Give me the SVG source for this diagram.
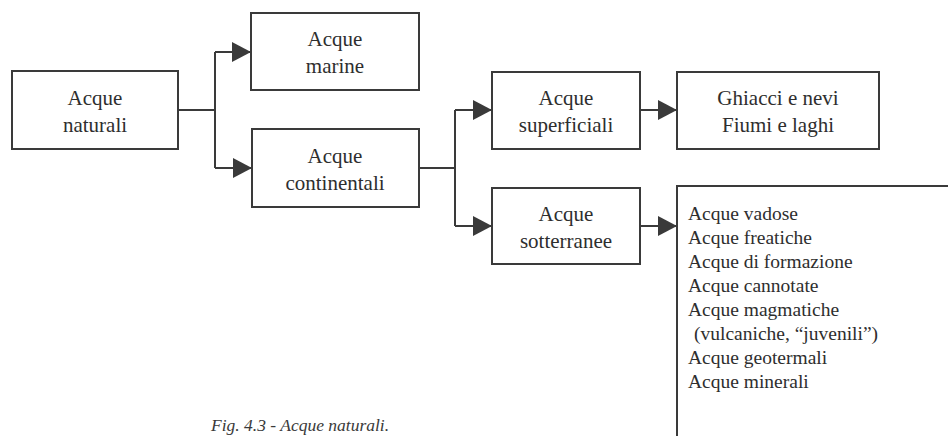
<svg xmlns="http://www.w3.org/2000/svg" width="948" height="436" viewBox="0 0 948 436">
  <style>
    .box { fill: #ffffff; stroke: #3a3a3a; stroke-width: 2; }
    .edge { fill: none; stroke: #3a3a3a; stroke-width: 2; }
    .lbl { font-family: "Liberation Serif", "Times New Roman", serif; font-size: 21px; fill: #2e2e2e; text-anchor: middle; }
    .item { font-family: "Liberation Serif", "Times New Roman", serif; font-size: 19.5px; fill: #2e2e2e; }
    .cap { font-family: "Liberation Serif", "Times New Roman", serif; font-style: italic; font-size: 17.5px; fill: #3a3a3a; }
  </style>
  <defs>
    <marker id="head" markerUnits="userSpaceOnUse" markerWidth="19" markerHeight="20" refX="19" refY="10" orient="auto">
      <path d="M0,0 L19,10 L0,20 Z" fill="#3a3a3a"/>
    </marker>
  </defs>
  <rect width="948" height="436" fill="#ffffff"/>

  <!-- connectors -->
  <g id="connectors">
    <path class="edge" d="M178,110 H215 M215,52 V168"/>
    <path class="edge" d="M215,52 H251" marker-end="url(#head)"/>
    <path class="edge" d="M215,168 H252" marker-end="url(#head)"/>
    <path class="edge" d="M419,168 H455 M455,110 V226"/>
    <path class="edge" d="M455,110 H492" marker-end="url(#head)"/>
    <path class="edge" d="M455,226 H492" marker-end="url(#head)"/>
    <path class="edge" d="M640,110 H677" marker-end="url(#head)"/>
    <path class="edge" d="M640,226 H677" marker-end="url(#head)"/>
  </g>

  <g id="acque-naturali">
    <rect class="box" x="12" y="71" width="166" height="78"/>
    <text class="lbl" x="95" y="105">Acque</text>
    <text class="lbl" x="95" y="132">naturali</text>
  </g>

  <g id="acque-marine">
    <rect class="box" x="251" y="13" width="168" height="77"/>
    <text class="lbl" x="335" y="46">Acque</text>
    <text class="lbl" x="335" y="73">marine</text>
  </g>

  <g id="acque-continentali">
    <rect class="box" x="252" y="129" width="167" height="78"/>
    <text class="lbl" x="335" y="163">Acque</text>
    <text class="lbl" x="335" y="190">continentali</text>
  </g>

  <g id="acque-superficiali">
    <rect class="box" x="492" y="72" width="148" height="77"/>
    <text class="lbl" x="566" y="105">Acque</text>
    <text class="lbl" x="566" y="132">superficiali</text>
  </g>

  <g id="ghiacci-fiumi">
    <rect class="box" x="677" y="72" width="202" height="77"/>
    <text class="lbl" x="778" y="105">Ghiacci e nevi</text>
    <text class="lbl" x="778" y="132">Fiumi e laghi</text>
  </g>

  <g id="acque-sotterranee">
    <rect class="box" x="492" y="188" width="148" height="76"/>
    <text class="lbl" x="566" y="221">Acque</text>
    <text class="lbl" x="566" y="248">sotterranee</text>
  </g>

  <g id="tipi-sotterranee">
    <path class="edge" d="M948,186 H677 V436"/>
    <text class="item" x="688" y="220">Acque vadose</text>
    <text class="item" x="688" y="244">Acque freatiche</text>
    <text class="item" x="688" y="268">Acque di formazione</text>
    <text class="item" x="688" y="292">Acque cannotate</text>
    <text class="item" x="688" y="316">Acque magmatiche</text>
    <text class="item" x="694" y="340">(vulcaniche, “juvenili”)</text>
    <text class="item" x="688" y="364">Acque geotermali</text>
    <text class="item" x="688" y="388">Acque minerali</text>
  </g>

  <text class="cap" x="211" y="431">Fig. 4.3 - Acque naturali.</text>
</svg>
